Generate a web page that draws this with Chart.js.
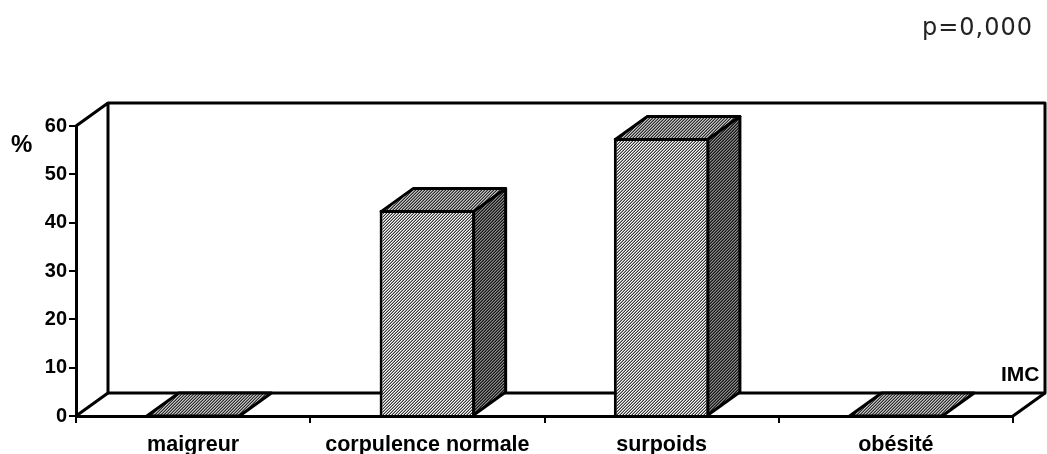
<!DOCTYPE html>
<html>
<head>
<meta charset="utf-8">
<style>
body { margin: 0; background: #fff; }
#wrap { position: relative; width: 1047px; height: 454px; }
.note { position: absolute; white-space: nowrap; color: #000; }
.bold { font: bold 18px "Liberation Sans", Arial, sans-serif; }
</style>
<script src="https://cdn.jsdelivr.net/npm/chart.js@4"></script>
</head>
<body>
<div id="wrap">
  <canvas id="graph" width="1047" height="454"></canvas>
  <div class="note" id="pval" style="right:14px;top:13px;font:24px 'DejaVu Sans',sans-serif;color:#222;letter-spacing:1px">p=0,000</div>
  <div class="note bold" style="left:11px;top:130px;font-size:24px">%</div>
  <div class="note bold" style="left:1001px;top:362px;font-size:21px">IMC</div>
</div>
<script>
const categories = ["maigreur", "corpulence normale", "surpoids", "obésité"];
const percents = [0, 42.6, 57.5, 0];
const yTicks = [0, 10, 20, 30, 40, 50, 60];

// depth of the fake 3D box
const DX = 32;
const DY = -23;

// 3px diagonal dither, tones 0 1 2 from light to dark
const weave = ["012", "120", "201"];

const makePattern = tones => {
    const c = document.createElement("canvas");
    c.width = weave[0].length;
    c.height = weave.length;
    const g = c.getContext("2d");
    weave.forEach((r, y) => {
        [...r].forEach((p, x) => {
            g.fillStyle = tones[p];
            g.fillRect(x, y, 1, 1);
        });
    });
    return g.createPattern(c, "repeat");
};

const ctxMain = document.getElementById("graph").getContext("2d");
const frontFill = makePattern(["#f8f8f8", "#9c9c9c", "#383838"]);
const topFill = makePattern(["#c4c4c4", "#7c7c7c", "#2c2c2c"]);
const sideFill = makePattern(["#8c8c8c", "#4c4c4c", "#141414"]);

const poly = (ctx, pts, fill) => {
    ctx.beginPath();
    pts.forEach((p, i) => i ? ctx.lineTo(p[0], p[1]) : ctx.moveTo(p[0], p[1]));
    ctx.closePath();
    if (fill) {
        ctx.fillStyle = fill;
        ctx.fill();
    }
    ctx.stroke();
};

const box3d = {
    id: "box3d",
    beforeDatasetsDraw(chart) {
        const { left, right, top, bottom } = chart.chartArea;
        const ctx = chart.ctx;
        ctx.save();
        ctx.strokeStyle = "#000";
        ctx.lineWidth = 3;
        ctx.lineJoin = "round";
        poly(ctx, [[left + DX, top + DY], [right + DX, top + DY], [right + DX, bottom + DY], [left + DX, bottom + DY]]);
        ctx.beginPath();
        ctx.moveTo(left, top); ctx.lineTo(left + DX, top + DY);
        ctx.moveTo(left, bottom); ctx.lineTo(left + DX, bottom + DY);
        ctx.moveTo(right, bottom); ctx.lineTo(right + DX, bottom + DY);
        ctx.stroke();
        ctx.restore();
    },
    afterDatasetsDraw(chart) {
        const ctx = chart.ctx;
        ctx.save();
        ctx.strokeStyle = "#000";
        ctx.lineWidth = 3;
        ctx.lineJoin = "round";
        chart.getDatasetMeta(0).data.forEach(bar => {
            // the library draws the bar border inside the bar, stay on its centre line
            const l = bar.x - bar.width / 2 + 1.5;
            const r = bar.x + bar.width / 2 - 1.5;
            const b = bar.base;
            const t = b > bar.y ? bar.y + 1.5 : bar.y;
            poly(ctx, [[l, t], [r, t], [r + DX, t + DY], [l + DX, t + DY]], topFill);
            if (b > t) {
                poly(ctx, [[r, t], [r + DX, t + DY], [r + DX, b + DY], [r, b]], sideFill);
            }
        });
        ctx.restore();
    }
};

const graph = new Chart(ctxMain, {
    type: "bar",
    data: {
        labels: categories,
        datasets: [{
            data: percents,
            backgroundColor: frontFill,
            borderColor: "#000",
            borderWidth: 3,
            barPercentage: 0.408,
            categoryPercentage: 1
        }]
    },
    plugins: [box3d],
    options: {
        responsive: false,
        animation: false,
        layout: { padding: { top: 126, right: 34 } },
        plugins: { legend: { display: false }, tooltip: { enabled: false } },
        scales: {
            x: {
                afterFit: s => { s.height = 38; },
                border: { color: "#000", width: 3 },
                grid: { offset: true, drawOnChartArea: false, color: "#000", lineWidth: 2, tickLength: 7 },
                ticks: {
                    color: "#000",
                    padding: 9,
                    maxRotation: 0,
                    font: { family: "Liberation Sans", size: 21.5, weight: "bold" }
                }
            },
            y: {
                min: 0,
                max: 60,
                afterFit: s => { s.width = 76; },
                afterBuildTicks: s => { s.ticks = yTicks.map(v => ({ value: v })); },
                border: { color: "#000", width: 3 },
                grid: { drawOnChartArea: false, color: "#000", lineWidth: 2, tickLength: 7 },
                ticks: {
                    color: "#000",
                    padding: 2,
                    font: { family: "Liberation Sans", size: 20, weight: "bold" }
                }
            }
        }
    }
});
</script>
</body>
</html>
